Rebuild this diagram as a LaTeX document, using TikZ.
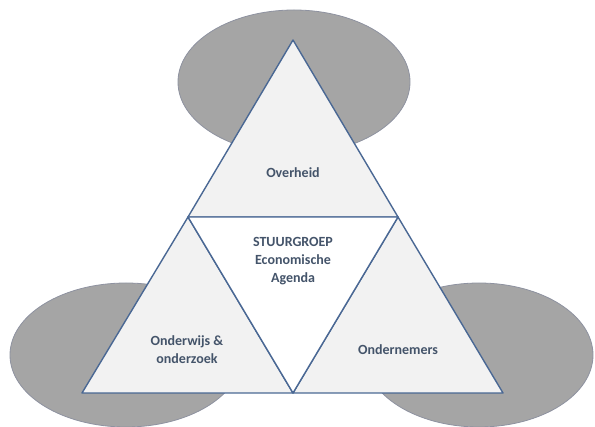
\documentclass[tikz,border=0pt]{standalone}
\usepackage{fontspec}
\setmainfont{Carlito}
\definecolor{ellfill}{HTML}{A5A5A5}
\definecolor{elledge}{HTML}{8E92A0}
\definecolor{triedge}{HTML}{4A6894}
\definecolor{trifill}{HTML}{F2F2F2}
\definecolor{txt}{HTML}{44546A}
\tikzset{
  blob/.style={fill=ellfill, draw=elledge, line width=0.8pt},
  outer/.style={fill=trifill, draw=triedge, line width=1.4pt, line join=round},
  inner/.style={fill=white, draw=triedge, line width=1.4pt, line join=round},
  lbl/.style={text=txt, font=\bfseries\fontsize{14}{18}\selectfont, align=center}
}
\begin{document}
\begin{tikzpicture}[x=1pt,y=-1pt]
\useasboundingbox (0,0) rectangle (595,427);
% ellipses
\fill[blob] (294,82) ellipse [x radius=116, y radius=72];
\fill[blob] (126,355) ellipse [x radius=116, y radius=72];
\fill[blob] (479,355) ellipse [x radius=114, y radius=72];
% vertices
\coordinate (A) at (293,40);
\coordinate (L) at (82,393);
\coordinate (R) at (503,393);
\coordinate (ML) at (188,217);
\coordinate (MR) at (398,217);
\coordinate (MB) at (293,393);
% triangles
\filldraw[outer] (A) -- (ML) -- (MR) -- cycle;
\filldraw[outer] (ML) -- (L) -- (MB) -- cycle;
\filldraw[outer] (MR) -- (MB) -- (R) -- cycle;
\filldraw[inner] (ML) -- (MR) -- (MB) -- cycle;
% labels
\node[lbl] (ov) at (293,173) {Overheid};
\node[lbl] (sg) at (293,261) {STUURGROEP\\Economische\\Agenda};
\node[lbl] (oo) at (187,350) {Onderwijs \&\\onderzoek};
\node[lbl] (on) at (398,350) {Ondernemers};
\end{tikzpicture}
\end{document}
